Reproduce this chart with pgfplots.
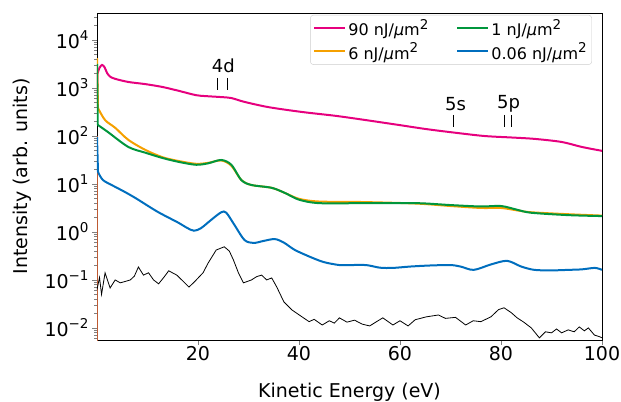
\documentclass[border=0pt]{standalone}
\usepackage{pgfplots}
\pgfplotsset{compat=1.18}
\usepackage{fontspec}
\setmainfont{DejaVu Sans}
\definecolor{cpink}{RGB}{230,0,126}
\definecolor{corange}{RGB}{245,160,0}
\definecolor{cgreen}{RGB}{0,150,60}
\definecolor{cblue}{RGB}{0,110,190}
\definecolor{cbrown}{RGB}{190,90,50}
\newcommand\sups[1]{\raisebox{0.42em}{\fontsize{13.5bp}{14bp}\selectfont #1}}
\newcommand\unit{nJ/\textit{μ}m\sups{2}}
\begin{document}
\begin{tikzpicture}
\useasboundingbox (-97bp,-62bp) rectangle (524bp,340bp);
\begin{axis}[
  at={(0,0)}, anchor=south west,
  scale only axis, width=505bp, height=327bp,
  ymode=log,
  xmin=0, xmax=100, ymin=0.0056, ymax=36500,
  xtick={20,40,60,80,100}, xticklabels={20,40,60,80,100},
  ytick={1e-2,1e-1,1,10,100,1000,10000},
  yticklabels={10\sups{−2},10\sups{−1},10\sups{0},10\sups{1},10\sups{2},10\sups{3},10\sups{4}},
  minor ytick={0.006,0.007,0.008,0.009,0.02,0.03,0.04,0.05,0.06,0.07,0.08,0.09,
    0.2,0.3,0.4,0.5,0.6,0.7,0.8,0.9,2,3,4,5,6,7,8,9,20,30,40,50,60,70,80,90,
    200,300,400,500,600,700,800,900,2000,3000,4000,5000,6000,7000,8000,9000,20000,30000},
  tick align=outside, tick pos=left,
  major tick length=4.9bp, minor tick length=2.8bp,
  tick style={line width=0.8bp},
  ticklabel style={font=\fontsize{19bp}{22bp}\selectfont},
  xticklabel style={yshift=2bp},
  xlabel={Kinetic Energy (eV)}, ylabel={Intensity (arb. units)},
  label style={font=\fontsize{19bp}{22bp}\selectfont},
  xlabel style={at={(axis description cs:0.5,-0.159)}, anchor=center},
  ylabel style={at={(axis description cs:-0.148,0.5)}, anchor=center},
  axis line style={line width=0.8bp},
  legend columns=2,
  legend style={at={(axis description cs:0.98,0.994)}, anchor=north east,
    draw=black!20, rounded corners=3bp, font=\fontsize{16bp}{19bp}\selectfont,
    inner xsep=3bp, inner ysep=2bp, row sep=1bp,
    /tikz/every even column/.append style={column sep=26bp}},
  legend cell align=left,
  legend image code/.code={\draw[#1] (0bp,0bp) -- (31bp,0bp);},
]
\addlegendimage{cpink, line width=2bp}
\addlegendentry{90 \unit}
\addlegendimage{cgreen, line width=2bp}
\addlegendentry{1 \unit}
\addlegendimage{corange, line width=2bp}
\addlegendentry{6 \unit}
\addlegendimage{cblue, line width=2bp}
\addlegendentry{0.06 \unit}

% brown trace at the left edge
\addplot[cbrown, line width=1.5bp, forget plot] coordinates {(0.05,0.004) (0.05,100)};

% 90 nJ/um^2
\addplot[cpink, line width=2bp, forget plot] coordinates {(0,562) (0.1,1995)};
\addplot[cpink, line width=2bp, forget plot, smooth, tension=0.5] coordinates {
(0.1,1995) (0.5,2630) (1.0,3020) (1.5,2700) (2.0,2050) (2.6,1720) (3.6,1549)
(6.2,1334) (9.6,1202) (13,1047) (16.2,871) (19.6,708) (21.6,676) (24.6,646)
(26.6,617) (29.2,513) (34,398) (40.6,316) (47.2,263) (52.6,219) (60,168)
(65,140) (70,120) (76.6,100) (82,93) (86.6,87) (92,75) (96,59) (100,49)};

% 6 nJ/um^2
\addplot[corange, line width=2bp, forget plot] coordinates {(0,4169) (0.2,380)};
\addplot[corange, line width=2bp, forget plot, smooth, tension=0.5] coordinates {
(0.2,380) (1.6,214) (3.6,148) (6.2,83) (9.6,51) (13,36) (16.2,30)
(19.6,26.3) (22,27.5) (24.6,30.9) (26.6,24) (28.6,12) (30.6,9.5) (34.6,8.3)
(37.2,6.5) (40,4.9) (44,4.3) (52.6,4.2) (63.3,3.9) (70,3.47) (76,3.16)
(80,3.16) (83.3,2.8) (86,2.57) (93.3,2.34) (100,2.19)};

% 1 nJ/um^2
\addplot[cgreen, line width=2bp, forget plot] coordinates {(0,3162) (0.15,170)};
\addplot[cgreen, line width=2bp, forget plot, smooth, tension=0.5] coordinates {
(0.15,170) (2.2,120) (6.2,59) (9.6,44.7) (13,34.7) (16.2,28.8)
(19.6,25.1) (22,26.9) (24.6,31.6) (26.6,25.1) (28.6,12) (30.6,9.5) (34.6,8.3)
(37.2,6.5) (40,4.7) (44,3.98) (52.6,3.98) (63.3,3.98) (70,3.63) (76,3.39)
(80,3.47) (83.3,2.88) (86,2.51) (93.3,2.24) (100,2.14)};

% 0.06 nJ/um^2
\addplot[cblue, line width=2bp, forget plot] coordinates {(0,95) (0.2,17.8)};
\addplot[cblue, line width=2bp, forget plot, smooth, tension=0.5] coordinates {
(0.2,17.8) (1.2,12) (3.6,8.7) (5.2,7.1) (7.6,5.1) (12,2.63) (16,1.58)
(17.8,1.22) (19.2,1.06) (20.6,1.2) (22.6,1.78) (24.6,2.57) (25.6,2.51) (27.2,1.41)
(29.2,0.68) (31,0.59) (33,0.65) (35.2,0.71) (37,0.60) (39.2,0.42) (42.6,0.29)
(45,0.234) (48,0.204) (50,0.204) (53.3,0.204) (56,0.18) (58.6,0.178) (62,0.19)
(66,0.20) (70,0.204) (72,0.19) (74.6,0.162) (78,0.21) (81.2,0.25) (84,0.19)
(86.6,0.162) (90,0.158) (93.3,0.162) (96,0.166) (98.6,0.178) (100,0.162)};

% thin black trace
\addplot[black, line width=0.8bp, forget plot] coordinates {
(0,0.063) (0.5,0.112) (0.9,0.05) (1.6,0.141) (2.6,0.068) (3.6,0.1) (4.6,0.087)
(5.6,0.093) (6.6,0.1) (7.4,0.12) (8.2,0.186) (9.2,0.126) (10.2,0.141) (11.2,0.1)
(12.2,0.083) (13.2,0.112) (14.2,0.155) (15.8,0.126) (17,0.095) (18.2,0.071)
(19.2,0.089) (20.2,0.115) (21,0.141) (22,0.224) (23.6,0.42) (25.2,0.49)
(26.2,0.40) (27,0.263) (28,0.141) (29,0.087) (30.6,0.1) (31.6,0.117)
(32.6,0.126) (33.6,0.1) (34.6,0.11) (35.6,0.071) (37,0.035) (38.6,0.0237)
(40.6,0.017) (42,0.0135) (43,0.0151) (44.6,0.0115) (46,0.0141) (47,0.0126)
(48,0.0162) (49.5,0.0132) (51,0.0145) (52.5,0.012) (54,0.011) (55.5,0.0138)
(56.6,0.0162) (58.6,0.0115) (60,0.0141) (61.6,0.011) (63,0.0148) (65.2,0.017)
(67.6,0.0186) (69,0.0158) (71,0.0166) (73,0.0115) (74.5,0.0141) (76,0.0135)
(78,0.017) (79.5,0.024) (80.6,0.0263) (82,0.0209) (83.2,0.0162) (84.5,0.0132)
(86,0.01) (87.6,0.0062) (88.8,0.0083) (90,0.0079) (91,0.0095) (92,0.0079)
(93.3,0.0091) (94.5,0.0083) (95.5,0.0105) (96.5,0.0087) (97.3,0.01)
(98.5,0.0071) (99.6,0.0065) (100,0.0062)};

% shell annotations
\node[font=\fontsize{18bp}{21bp}\selectfont] at (axis cs:25,2880) {4d};
\draw[black, line width=0.8bp] (axis cs:23.8,1620) -- (axis cs:23.8,910);
\draw[black, line width=0.8bp] (axis cs:25.8,1620) -- (axis cs:25.8,910);
\node[font=\fontsize{18bp}{21bp}\selectfont] at (axis cs:71,468) {5s};
\draw[black, line width=0.8bp] (axis cs:70.6,275) -- (axis cs:70.6,155);
\node[font=\fontsize{18bp}{21bp}\selectfont] at (axis cs:81.5,468) {5p};
\draw[black, line width=0.8bp] (axis cs:80.7,275) -- (axis cs:80.7,155);
\draw[black, line width=0.8bp] (axis cs:82.1,275) -- (axis cs:82.1,155);
\end{axis}
\end{tikzpicture}
\end{document}
